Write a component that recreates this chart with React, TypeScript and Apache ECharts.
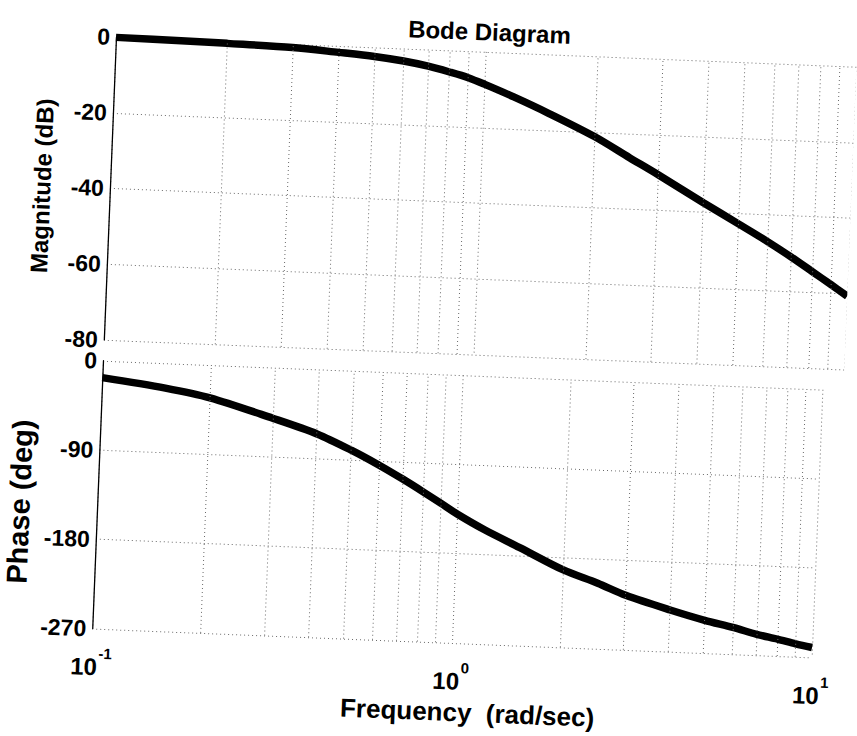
import React, { useEffect, useRef } from "react";
import * as echarts from "echarts";

// Frequency samples (rad/sec)
const freq = [0.1, 0.15, 0.2, 0.3, 0.4, 0.5, 0.6, 0.7, 0.8, 0.9, 1, 1.2, 1.5, 2, 2.5, 3, 4, 5, 6, 7, 8, 9, 10];
// Magnitude (dB)
const magnitudeDb = [-0.1, -0.3, -0.5, -0.9, -1.7, -2.4, -3.3, -4.4, -5.7, -7.0, -8.6, -11.6, -15.6, -21.2, -26.4, -30.6, -37.5, -42.7, -47.0, -50.9, -54.5, -57.7, -60.6];
// Phase (deg)
const phaseDeg = [-17, -25, -33, -51, -65, -80, -94, -107, -119, -130, -140, -155, -171, -192, -204, -215, -228, -237, -243, -249, -253, -257, -260];
// Minor logarithmic grid positions
const minorFreqs = [0.2, 0.3, 0.4, 0.5, 0.6, 0.7, 0.8, 0.9, 2, 3, 4, 5, 6, 7, 8, 9];

const FONT = "'Liberation Sans', Arial, Helvetica, sans-serif";
const gridLine = { color: "#6a6a6a", width: 1, type: [1, 3] as any };

export default function App() {
  const ref = useRef<HTMLDivElement>(null);

  useEffect(() => {
    if (!ref.current) return;
    const chart = echarts.init(ref.current, undefined, { renderer: "svg" });

    const minorMarks = {
      silent: true,
      symbol: ["none", "none"],
      label: { show: false },
      lineStyle: { ...gridLine },
      emphasis: { disabled: true },
      data: minorFreqs.map((f) => ({ xAxis: f })),
    };

    const yLabel = { margin: 6, fontSize: 23, fontWeight: "bold", color: "#000", fontFamily: FONT };
    const yName = { fontSize: 24, fontWeight: "bold", color: "#000", fontFamily: FONT };

    const option: any = {
      animation: false,
      textStyle: { fontFamily: FONT },
      title: {
        text: "Bode Diagram",
        left: 489,
        top: 5,
        padding: 0,
        textAlign: "center",
        textStyle: { fontSize: 24, fontWeight: "bold", color: "#000", fontFamily: FONT },
      },
      grid: [
        { left: 116, top: 37, width: 747, height: 303 },
        { left: 116, top: 361, width: 757, height: 268 },
      ],
      xAxis: [
        {
          type: "log",
          logBase: 10,
          gridIndex: 0,
          min: 0.1,
          max: 10,
          axisLine: { show: false },
          axisTick: { show: false },
          axisLabel: { show: false },
          splitLine: { show: true, lineStyle: gridLine },
        },
        {
          type: "log",
          logBase: 10,
          gridIndex: 1,
          min: 0.1,
          max: 10,
          axisLine: { show: false },
          axisTick: { show: false },
          splitLine: { show: true, lineStyle: gridLine },
          axisLabel: {
            show: true,
            margin: 17,
            formatter: (v: number) => `{b|10}{s|${Math.round(Math.log10(v))}}`,
            rich: {
              b: { fontSize: 24, fontWeight: "bold", color: "#000", fontFamily: FONT, lineHeight: 33, verticalAlign: "bottom" },
              s: { fontSize: 15, fontWeight: "bold", color: "#000", fontFamily: FONT, lineHeight: 16, verticalAlign: "top", padding: [0, 0, 0, 1] },
            },
          },
          name: "Frequency  (rad/sec)",
          nameLocation: "middle",
          nameGap: 56,
          nameTextStyle: { fontSize: 26, fontWeight: "bold", color: "#000", fontFamily: FONT, padding: [0, 0, 0, 36] },
        },
      ],
      yAxis: [
        {
          type: "value",
          gridIndex: 0,
          min: -80,
          max: 0,
          interval: 20,
          axisLine: { show: true, lineStyle: { color: "#000", width: 1.3 } },
          axisTick: { show: false },
          axisLabel: yLabel,
          splitLine: { show: true, lineStyle: gridLine },
          name: "Magnitude (dB)",
          nameLocation: "middle",
          nameRotate: 90,
          nameGap: 56,
          nameTextStyle: yName,
        },
        {
          type: "value",
          gridIndex: 1,
          min: -270,
          max: 0,
          interval: 90,
          axisLine: { show: true, lineStyle: { color: "#000", width: 1.3 } },
          axisTick: { show: false },
          axisLabel: yLabel,
          splitLine: { show: true, lineStyle: gridLine },
          name: "Phase (deg)",
          nameLocation: "middle",
          nameRotate: 90,
          nameGap: 60,
          nameTextStyle: { ...yName, fontSize: 29, padding: [0, 20, 0, 0] },
        },
      ],
      series: [
        {
          type: "line",
          xAxisIndex: 0,
          yAxisIndex: 0,
          data: freq.map((f, i) => [f, magnitudeDb[i]]),
          showSymbol: false,
          smooth: 0.3,
          clip: false,
          lineStyle: { color: "#000", width: 7.5 },
          markLine: minorMarks,
        },
        {
          type: "line",
          xAxisIndex: 1,
          yAxisIndex: 1,
          data: freq.map((f, i) => [f, phaseDeg[i]]),
          showSymbol: false,
          smooth: 0.3,
          clip: false,
          lineStyle: { color: "#000", width: 7.5 },
          markLine: minorMarks,
        },
      ],
    };

    chart.setOption(option);
    return () => chart.dispose();
  }, []);

  return (
    <div style={{ position: "fixed", left: 0, top: 0, width: 857, height: 736, overflow: "hidden", background: "#fff" }}>
      <div
        ref={ref}
        style={{
          position: "absolute",
          left: 0,
          top: 0,
          width: 857,
          height: 736,
          transform: "rotate(2.3deg)",
          transformOrigin: "116px 37px",
        }}
      />
    </div>
  );
}
